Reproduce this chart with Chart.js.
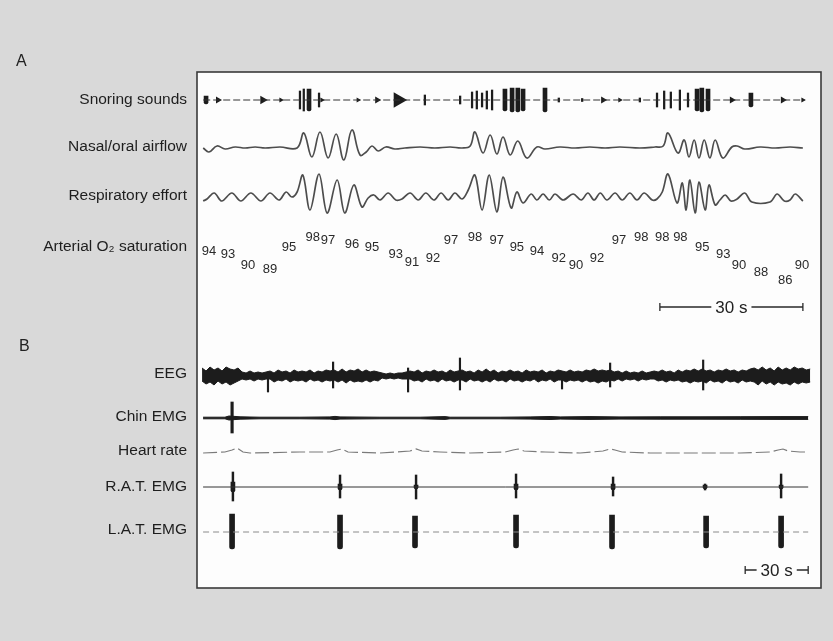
<!DOCTYPE html>
<html>
<head>
<meta charset="utf-8">
<script src="https://cdn.jsdelivr.net/npm/chart.js@4.4.1/dist/chart.umd.min.js"></script>
<style>
  html, body { margin: 0; padding: 0; background: #d9d9d9; }
  #wrap { width: 833px; height: 641px; position: relative; }
</style>
</head>
<body>
<div id="wrap"><canvas id="psg"></canvas></div>
<script>
// ─── PANEL A (time in s, deflection in trace units, + = up) ───────────────
const airflowT = [1.3, 2.5, 4.2, 5.9, 8.0, 10.1, 12.2, 14.3, 17.4, 21.0,
  22.4, 24.1, 25.8, 27.5, 29.2, 30.8, 32.5, 34.2, 35.5, 36.7,
  38.0, 39.6, 41.5, 43.6, 46.8, 49.9, 53.1, 55.6, 57.3, 58.3,
  60.0, 61.5, 62.9, 64.2, 65.7, 67.3, 69.2, 71.3, 73.0, 76.1,
  79.3, 82.4, 85.6, 88.7, 92.9, 96.1, 97.8, 98.8, 100.9, 102.2,
  103.2, 104.3, 105.3, 106.4, 107.6, 108.7, 110.3, 112.2, 113.3, 114.9,
  118.1, 121.3, 124.4, 127.1];
const airflowV = [0, -4, 2, -1, 1, 0, 1, 0, 1, 0,
  15, -9, 16, -10, 14, -12, 18, -7, -4, 2,
  -3, 1, -1, 0, 1, 0, 1, 0, 2, 16,
  -5, 13, -6, 11, -7, 7, -10, 1, -1, 1,
  0, 1, 0, 1, 0, 1, 2, 15, -5, 8,
  -9, 8, -10, 8, -10, 8, -10, 1, 2, -1,
  1, 0, 1, 0];

const effortT = [1.3, 2.1, 3.6, 5.2, 7.3, 9.2, 11.3, 13.4, 15.3, 17.2,
  18.7, 19.9, 21.0, 22.2, 23.7, 25.6, 27.3, 29.4, 31.0, 32.9,
  34.6, 35.9, 37.1, 38.4, 40.1, 41.7, 43.0, 44.7, 46.4, 48.0,
  49.7, 51.2, 52.7, 54.1, 55.6, 56.9, 58.3, 59.8, 61.3, 62.9,
  64.2, 65.9, 67.1, 68.4, 70.1, 71.3, 72.6, 73.9, 75.1, 76.8,
  78.9, 80.6, 82.0, 83.3, 84.6, 86.0, 87.7, 89.2, 90.8, 92.3,
  93.8, 95.5, 96.5, 97.6, 98.8, 100.7, 101.8, 102.6, 103.4, 104.5,
  105.3, 106.6, 107.4, 108.7, 109.7, 110.8, 112.0, 113.3, 114.9, 116.4,
  120.2, 121.7, 123.2, 124.4, 125.5, 127.1];
const effortV = [-2, 0, 6, -2, 6, -2, 6, -2, 6, -1,
  7, 2, 7, 24, -11, 25, -14, 19, -14, 14,
  -8, 1, 4, -1, 6, -1, 0, 6, -1, 6,
  -1, 6, -1, 6, 0, 9, 24, -11, 24, -13,
  22, -9, 7, -4, 5, -1, 5, -1, 5, -1,
  5, -1, 6, -1, 6, -1, 6, -1, 6, -1,
  6, -1, 0, 7, 25, -4, 16, -11, 19, -14,
  17, -11, 14, -6, -1, 4, -2, 0, 6, -3,
  -3, 5, -2, -1, 5, -2];

// snoring: thin strokes, thicker bursts, arrow-shaped blobs
const snoreStrokeT   = [21.6, 22.4, 25.6, 47.8, 55.2, 57.7, 58.7, 59.8, 60.8, 61.9, 75.9, 80.8, 92.9, 96.5, 98.0, 99.4, 101.3, 103.0];
const snoreStrokeAmp = [9, 11, 7, 5, 4, 8, 9, 7, 9, 10, 2, 1.5, 2, 7, 9, 8, 10, 7];
const snoreBurstT    = [1.9, 23.5, 64.6, 66.1, 67.3, 68.4, 73.0, 104.9, 105.9, 107.2, 116.2];
const snoreBurstAmp  = [4, 11, 11, 12, 12, 11, 12, 11, 12, 11, 7];
const snoreBlobT     = [4.4, 13.8, 17.6, 26.2, 33.8, 37.8, 42.2, 85.2, 88.7, 112.2, 122.9, 127.1];
const snoreBlobSize  = [4, 5, 3, 3, 3, 4, 9, 4, 3, 4, 4, 3];

const o2T = [2.5, 6.5, 10.7, 15.3, 19.3, 24.3, 27.5, 32.5, 36.7, 41.7,
  45.1, 49.5, 53.3, 58.3, 62.9, 67.1, 71.3, 75.9, 79.5, 83.9,
  88.5, 93.2, 97.6, 101.4, 106.0, 110.4, 113.7, 118.3, 123.4, 126.9];
const o2Values = [94, 93, 90, 89, 95, 98, 97, 96, 95, 93,
  91, 92, 97, 98, 97, 95, 94, 92, 90, 92,
  97, 98, 98, 98, 95, 93, 90, 88, 86, 90];

// ─── PANEL B (time in s) ──────────────────────────────────────────────────
// EEG envelope, sampled every EEG_STEP s from EEG_START
const EEG_START = 2.4;
const EEG_STEP = 1.905;
const eegUp = [8, 5, 9, 6, 8, 5, 9, 7, 6, 8,
  4, 3, 5, 3, 4, 3, 4,
  5, 3, 6, 4, 5, 3, 6, 4, 5, 4, 6, 3, 5, 4, 6, 5,
  6, 4, 7, 4, 6, 5, 7, 4, 6, 4, 5, 4,
  3, 2, 3, 2, 3, 3, 4,
  5, 4, 6, 3, 5, 4, 6, 4, 5, 3, 6, 4, 5,
  6, 4, 5, 3, 6, 4, 7, 4, 6, 3, 5, 4, 6, 4, 5, 3, 6, 4, 5, 4, 6, 3, 5, 4, 6,
  5, 4, 6, 4, 5, 4, 6, 5, 7, 5, 6, 5,
  6, 4, 5, 3, 5, 3, 4, 3, 5, 3, 4,
  5, 4, 6, 4, 5, 3, 6, 4, 6, 5, 7, 5,
  7, 5, 6, 4, 6, 5, 7, 5, 6, 4, 6, 5, 7,
  8, 6, 9, 6, 8, 5, 9, 6, 8, 6, 9, 7, 8, 6, 7];
const eegDown = [5, 8, 6, 9, 5, 8, 6, 9, 7, 5,
  3, 4, 3, 5, 3, 4, 3,
  3, 6, 4, 5, 3, 6, 4, 5, 4, 6, 3, 5, 4, 6, 4, 5,
  4, 6, 4, 7, 4, 6, 5, 6, 4, 6, 4, 5,
  2, 3, 2, 3, 2, 3, 3,
  3, 5, 4, 6, 3, 5, 4, 6, 3, 5, 4, 6, 4,
  4, 6, 3, 5, 4, 6, 4, 6, 3, 5, 4, 6, 3, 5, 4, 6, 4, 5, 3, 6, 4, 5, 3, 6, 4,
  4, 6, 4, 5, 4, 6, 4, 6, 5, 7, 5, 6,
  4, 5, 3, 5, 3, 4, 3, 5, 3, 4, 3,
  3, 5, 4, 6, 4, 5, 4, 6, 5, 7, 5, 6,
  5, 7, 4, 6, 5, 7, 4, 6, 5, 7, 4, 6, 5,
  6, 9, 5, 8, 6, 9, 6, 8, 7, 9, 6, 8, 6, 7, 6];
const eegSpikeT    = [33.8, 64.8, 100.5, 125.2, 173.8, 196.7, 241.0];
const eegSpikeUp   = [3, 14, 8, 18, 4, 13, 16];
const eegSpikeDown = [16, 12, 16, 14, 13, 11, 14];

const chinT   = [2.9, 13.3, 15.2, 20.5, 30.0, 49.0, 63.3, 65.7, 68.1, 87.1,
  106.2, 118.1, 120.5, 144.3, 158.6, 168.1, 172.9, 187.1, 201.4, 220.5,
  239.5, 258.6, 277.6, 291.0];
const chinAmp = [0.8, 0.8, 2, 1.2, 0.8, 0.8, 1.1, 1.6, 1.1, 0.8,
  0.8, 1.4, 0.8, 0.8, 1.1, 1.5, 1.1, 1.4, 1.1, 1.2,
  1.2, 1.3, 1.4, 1.4];
const chinSpikeT = [16.7];
const chinSpikeUp = [16];
const chinSpikeDown = [15];

const heartT = [2.9, 13.3, 16.7, 19.0, 21.9, 25.2, 49.0, 63.3, 66.7, 69.0,
  71.9, 87.1, 101.4, 104.3, 107.1, 115.7, 130.0, 146.7, 150.5, 152.9,
  155.7, 165.7, 182.4, 193.3, 196.7, 199.0, 202.4, 215.7, 239.5, 258.6,
  272.9, 276.7, 279.0, 281.4, 287.1, 291.0];
const heartV = [-1, 0, 2, 4, 0, -1, 0, 0, 2, 3,
  0, -1, 1, 3, 1, 0, -1, 0, 2, 3,
  1, 0, -1, 1, 3, 2, 0, -1, -1, -1,
  0, 2, 3, 1, 0, 0];

const ratT    = [17.1, 68.1, 104.3, 151.9, 198.1, 241.9, 278.1];
const ratUp   = [15, 12, 12, 13, 10, 3, 13];
const ratDown = [14, 11, 12, 11, 9, 3, 11];
const ratCore = [5, 3, 2, 3, 3, 2, 2];

const latT    = [16.7, 68.1, 103.8, 151.9, 197.6, 242.4, 278.1];
const latUp   = [18, 17, 16, 17, 17, 16, 16];
const latDown = [17, 17, 16, 16, 17, 16, 16];

// ─── LAYOUT ──────────────────────────────────────────────────────────────
const ROW = { snore: 28, airflow: 76, effort: 127, o2: 165, eeg: 304, chin: 346, heart: 380, rat: 415, lat: 460 };
const O2_GAIN = 3.58;
const rowNames  = ["Snoring sounds", "Nasal/oral airflow", "Respiratory effort", "Arterial O\u2082 saturation",
                   "EEG", "Chin EMG", "Heart rate", "R.A.T. EMG", "L.A.T. EMG"];
const rowLabelY = [28, 75, 124, 175, 302, 345, 379, 415, 458];

const INK = "#1c1c1c";
const TRACE = "#4d4d4d";

const pts = (ts, vs, base) => ts.map((t, i) => ({ x: t, y: base - vs[i] }));
const spans = (ts, up, down, base) => ts.map((t, i) => ({ x: t, y: [base - up[i], base + down[i]] }));
const eegTime = i => EEG_START + i * EEG_STEP;

function lineSet(data, xAxisID, extra) {
  return Object.assign({ type: "line", data, xAxisID, yAxisID: "y", pointRadius: 0,
    borderColor: TRACE, borderWidth: 1.6, tension: 0, fill: false }, extra || {});
}
function barSet(data, xAxisID, thickness, color, extra) {
  return Object.assign({ type: "bar", data, xAxisID, yAxisID: "y", grouped: false,
    barThickness: thickness, backgroundColor: color, borderWidth: 0 }, extra || {});
}

const datasets = [
  lineSet(pts(airflowT, airflowV, ROW.airflow), "xA", { tension: 0.4, borderWidth: 1.7 }),
  lineSet(pts(effortT, effortV, ROW.effort), "xA", { tension: 0.35, borderWidth: 1.7 }),
  lineSet([{ x: 1.3, y: ROW.snore }, { x: 127.5, y: ROW.snore }], "xA", { borderColor: "#333", borderWidth: 1, borderDash: [7, 3] }),
  barSet(spans(snoreStrokeT, snoreStrokeAmp, snoreStrokeAmp, ROW.snore), "xA", 1.6, INK),
  barSet(spans(snoreBurstT, snoreBurstAmp, snoreBurstAmp, ROW.snore), "xA", 4, INK, { borderRadius: 2 }),
  lineSet(snoreBlobT.map(t => ({ x: t, y: ROW.snore })), "xA", { showLine: false, pointStyle: "triangle",
    rotation: 90, pointRadius: snoreBlobSize, backgroundColor: INK, borderColor: INK, pointBorderWidth: 0 }),
  lineSet(o2T.map((t, i) => ({ x: t, y: ROW.o2 + (98 - o2Values[i]) * O2_GAIN })), "xA", { showLine: false, o2Text: true }),

  lineSet(eegUp.map((v, i) => ({ x: eegTime(i), y: ROW.eeg - v })), "xB", { borderColor: INK, borderWidth: 1 }),
  lineSet(eegDown.map((v, i) => ({ x: eegTime(i), y: ROW.eeg + v })), "xB", { borderColor: INK, borderWidth: 1, fill: "-1", backgroundColor: INK }),
  barSet(spans(eegSpikeT, eegSpikeUp, eegSpikeDown, ROW.eeg), "xB", 1.5, INK),

  lineSet(chinT.map((t, i) => ({ x: t, y: ROW.chin - chinAmp[i] })), "xB", { borderColor: INK, borderWidth: 1 }),
  lineSet(chinT.map((t, i) => ({ x: t, y: ROW.chin + chinAmp[i] })), "xB", { borderColor: INK, borderWidth: 1, fill: "-1", backgroundColor: INK }),
  barSet(spans(chinSpikeT, chinSpikeUp, chinSpikeDown, ROW.chin), "xB", 2.5, INK),

  lineSet(pts(heartT, heartV, ROW.heart), "xB", { borderColor: "#7a7a7a", borderWidth: 1.2, borderDash: [14, 4] }),

  lineSet([{ x: 2.9, y: ROW.rat }, { x: 291, y: ROW.rat }], "xB", { borderColor: "#333", borderWidth: 1 }),
  barSet(spans(ratT, ratUp, ratDown, ROW.rat), "xB", 1.8, INK),
  barSet(spans(ratT, ratCore, ratCore, ROW.rat), "xB", 4, INK, { borderRadius: 2 }),

  lineSet([{ x: 2.9, y: ROW.lat }, { x: 291, y: ROW.lat }], "xB", { borderColor: "#8a8a8a", borderWidth: 1, borderDash: [6, 4] }),
  barSet(spans(latT, latUp, latDown, ROW.lat), "xB", 5, INK, { borderRadius: 2.5 })
];

// ─── DECORATION: box, O2 numbers, scale bars, panel letters ──────────────
function drawScaleBar(ctx, xs, ys, t0, t1, yVal, label) {
  const x0 = xs.getPixelForValue(t0), x1 = xs.getPixelForValue(t1);
  const y = ys.getPixelForValue(yVal);
  ctx.font = "17px 'Liberation Sans', Arial, sans-serif";
  const w = ctx.measureText(label).width;
  const mid = (x0 + x1) / 2;
  ctx.strokeStyle = "#2a2a2a";
  ctx.lineWidth = 1.3;
  ctx.beginPath();
  ctx.moveTo(x0, y); ctx.lineTo(mid - w / 2 - 4, y);
  ctx.moveTo(mid + w / 2 + 4, y); ctx.lineTo(x1, y);
  ctx.moveTo(x0, y - 4); ctx.lineTo(x0, y + 4);
  ctx.moveTo(x1, y - 4); ctx.lineTo(x1, y + 4);
  ctx.stroke();
  ctx.fillStyle = "#222";
  ctx.textAlign = "center";
  ctx.textBaseline = "middle";
  ctx.fillText(label, mid, y + 1);
}

const decor = {
  id: "decor",
  beforeDraw(chart) {
    const { ctx, chartArea: a } = chart;
    ctx.save();
    ctx.fillStyle = "#fdfdfd";
    ctx.fillRect(a.left, a.top, a.right - a.left, a.bottom - a.top);
    ctx.restore();
  },
  afterDraw(chart) {
    const { ctx, chartArea: a, scales } = chart;
    ctx.save();
    // O2 saturation readings
    chart.data.datasets.forEach((ds, di) => {
      if (!ds.o2Text) return;
      ctx.font = "13px 'Liberation Sans', Arial, sans-serif";
      ctx.fillStyle = "#2a2a2a";
      ctx.textAlign = "center";
      ctx.textBaseline = "middle";
      chart.getDatasetMeta(di).data.forEach((p, i) => ctx.fillText(String(o2Values[i]), p.x, p.y));
    });
    drawScaleBar(ctx, scales.xA, scales.y, 97.1, 127.1, 235, "30 s");
    drawScaleBar(ctx, scales.xB, scales.y, 261, 291, 498, "30 s");
    // box
    ctx.strokeStyle = "#3a3a3a";
    ctx.lineWidth = 1.6;
    ctx.strokeRect(a.left, a.top, a.right - a.left, a.bottom - a.top);
    // panel letters
    ctx.font = "16px 'Liberation Sans', Arial, sans-serif";
    ctx.fillStyle = "#222";
    ctx.textAlign = "left";
    ctx.textBaseline = "middle";
    ctx.fillText("A", 16, 62);
    ctx.fillText("B", 19, 347);
    ctx.restore();
  }
};

new Chart(document.getElementById("psg"), {
  type: "line",
  data: { datasets },
  options: {
    responsive: true,
    maintainAspectRatio: false,
    animation: false,
    layout: { padding: { top: 72, right: 12, bottom: 53, left: 0 } },
    plugins: { legend: { display: false }, tooltip: { enabled: false } },
    scales: {
      xA: { type: "linear", position: "bottom", display: false, offset: false, min: 0, max: 130.9 },
      xB: { type: "linear", position: "bottom", display: false, offset: false, min: 0, max: 297.1 },
      y: {
        type: "linear",
        reverse: true,
        min: 0,
        max: 516,
        grid: { display: false, drawTicks: false },
        border: { display: false },
        afterFit(scale) { scale.width = 197; },
        afterBuildTicks(scale) { scale.ticks = rowLabelY.map(v => ({ value: v })); },
        ticks: {
          autoSkip: false,
          padding: 10,
          color: "#1e1e1e",
          font: { family: "'Liberation Sans', Arial, sans-serif", size: 15.5 },
          callback: (v) => rowNames[rowLabelY.indexOf(v)] || ""
        }
      }
    }
  },
  plugins: [decor]
});
</script>
</body>
</html>
